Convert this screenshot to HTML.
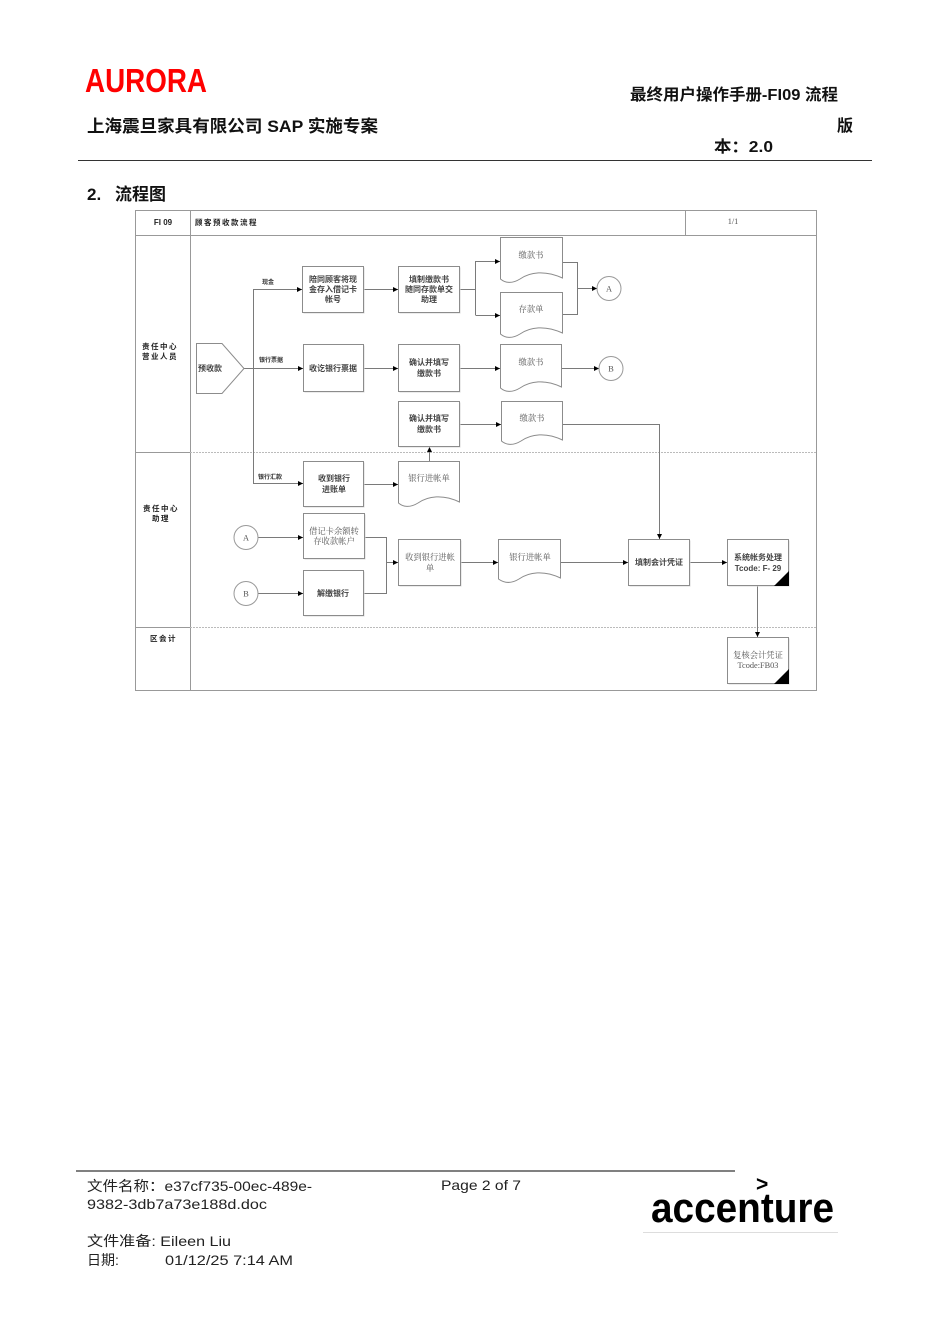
<!DOCTYPE html>
<html><head><meta charset="utf-8">
<style>
html,body{margin:0;padding:0;background:#fff;}
svg{display:block;}
.s{font-family:"Liberation Sans","Noto Sans CJK SC",sans-serif;}
.b{font-family:"Liberation Sans","Noto Sans CJK SC",sans-serif;font-size:8px;fill:#444;font-weight:bold;}
.r{font-family:"Liberation Serif","Noto Serif CJK SC",serif;font-size:8.3px;fill:#555;}
.lb{font-family:"Liberation Sans","Noto Sans CJK SC",sans-serif;font-size:7.5px;fill:#222;font-weight:bold;letter-spacing:1.5px;}
.bx{fill:#fff;stroke:#8c8c8c;stroke-width:1;}
.sh{fill:#d8d8d8;stroke:none;}
.ln{stroke:#7a7a7a;stroke-width:1;fill:none;}
</style></head>
<body>
<svg width="950" height="1344" viewBox="0 0 950 1344" xmlns="http://www.w3.org/2000/svg">
<defs>
<marker id="ar" viewBox="0 0 10 10" refX="10" refY="5" markerWidth="5" markerHeight="5" orient="auto">
<path d="M0,0 L10,5 L0,10 Z" fill="#000"/>
</marker>
</defs>

<!-- Page header -->
<text x="85" y="92" font-family="Liberation Sans" font-weight="bold" font-size="33" fill="#f00" textLength="122" lengthAdjust="spacingAndGlyphs">AURORA</text>
<text x="630" y="100" class="s" font-weight="bold" font-size="16" fill="#111" textLength="208" lengthAdjust="spacingAndGlyphs">最终用户操作手册-FI09 流程</text>
<text x="87" y="132" class="s" font-weight="bold" font-size="17" fill="#111" textLength="291" lengthAdjust="spacingAndGlyphs">上海震旦家具有限公司 SAP 实施专案</text>
<text x="837" y="131" class="s" font-weight="bold" font-size="16" fill="#111">版</text>
<text x="714" y="152" class="s" font-weight="bold" font-size="16" fill="#111" textLength="59" lengthAdjust="spacingAndGlyphs">本：2.0</text>
<line x1="78" y1="160.5" x2="872" y2="160.5" stroke="#333" stroke-width="1"/>
<text x="87" y="200" class="s" font-weight="bold" font-size="17" fill="#111">2.</text>
<text x="115" y="200" class="s" font-weight="bold" font-size="17" fill="#111">流程图</text>

<!-- Diagram frame -->
<rect x="135.5" y="210.5" width="681" height="480" fill="#fff" stroke="#999" stroke-width="1"/>
<line x1="135" y1="235.5" x2="817" y2="235.5" stroke="#999"/>
<line x1="190.5" y1="210" x2="190.5" y2="691" stroke="#999"/>
<line x1="685.5" y1="210" x2="685.5" y2="235" stroke="#999"/>
<line x1="135" y1="452.5" x2="190" y2="452.5" stroke="#999"/>
<line x1="135" y1="627.5" x2="190" y2="627.5" stroke="#999"/>
<line x1="190" y1="452.5" x2="817" y2="452.5" stroke="#bbb" stroke-dasharray="2,1"/>
<line x1="190" y1="627.5" x2="817" y2="627.5" stroke="#bbb" stroke-dasharray="2,1"/>

<text x="163" y="225" class="s" font-size="8" font-weight="bold" fill="#222" text-anchor="middle">FI 09</text>
<text x="195" y="225" class="lb" font-size="8.5">顾客预收款流程</text>
<text x="733" y="224" class="r" font-size="9" text-anchor="middle">1/1</text>

<text x="142" y="349" class="lb">责任中心</text>
<text x="142" y="359" class="lb">营业人员</text>
<text x="143" y="511" class="lb">责任中心</text>
<text x="152" y="521" class="lb">助理</text>
<text x="150" y="641" class="lb">区会计</text>

<!-- Connectors -->
<g class="ln">
<path d="M244,368.5 H253.5"/>
<path d="M253.5,289 V484"/>
<path d="M253.5,289.5 H302" marker-end="url(#ar)"/>
<path d="M253.5,368.5 H303" marker-end="url(#ar)"/>
<path d="M253.5,483.5 H303" marker-end="url(#ar)"/>
<path d="M364,289.5 H398" marker-end="url(#ar)"/>
<path d="M460,289.5 H475.5"/>
<path d="M475.5,261 V315"/>
<path d="M475.5,261.5 H500" marker-end="url(#ar)"/>
<path d="M475.5,315.5 H500" marker-end="url(#ar)"/>
<path d="M563,262.5 H577.5 V314.5 H563"/>
<path d="M577.5,288.5 H597" marker-end="url(#ar)"/>
<path d="M364,368.5 H398" marker-end="url(#ar)"/>
<path d="M460,368.5 H500" marker-end="url(#ar)"/>
<path d="M562,368.5 H599" marker-end="url(#ar)"/>
<path d="M460,424.5 H501" marker-end="url(#ar)"/>
<path d="M563,424.5 H659.5 V539" marker-end="url(#ar)"/>
<path d="M364,484.5 H398" marker-end="url(#ar)"/>
<path d="M429.5,461 V447" marker-end="url(#ar)"/>
<path d="M258,537.5 H303" marker-end="url(#ar)"/>
<path d="M258,593.5 H303" marker-end="url(#ar)"/>
<path d="M365,537.5 H386.5 V593.5 H364"/>
<path d="M386.5,562.5 H398" marker-end="url(#ar)"/>
<path d="M461,562.5 H498" marker-end="url(#ar)"/>
<path d="M561,562.5 H628" marker-end="url(#ar)"/>
<path d="M690,562.5 H727" marker-end="url(#ar)"/>
<path d="M757.5,586 V637" marker-end="url(#ar)"/>
</g>

<!-- Pentagon -->
<polygon points="196.5,343.5 222,343.5 244,368.5 222,393.5 196.5,393.5" class="bx"/>
<text x="198" y="371" class="b" font-weight="normal">预收款</text>

<!-- Lane 1 boxes -->
<rect x="303.5" y="267.5" width="61" height="46" class="sh"/>
<rect x="302.5" y="266.5" width="61" height="46" class="bx"/>
<text class="b" text-anchor="middle" x="333" y="282">陪同顾客将现</text>
<text class="b" text-anchor="middle" x="333" y="292">金存入借记卡</text>
<text class="b" text-anchor="middle" x="333" y="302">帐号</text>

<rect x="399.5" y="267.5" width="61" height="46" class="sh"/>
<rect x="398.5" y="266.5" width="61" height="46" class="bx"/>
<text class="b" text-anchor="middle" x="429" y="282">填制缴款书</text>
<text class="b" text-anchor="middle" x="429" y="292">随同存款单交</text>
<text class="b" text-anchor="middle" x="429" y="302">助理</text>

<path class="bx" d="M500.5,237.5 H562.5 V278 C545,270 530,272 520,279 C512,284 505,283 500.5,279 Z"/>
<text class="r" text-anchor="middle" x="531" y="258">缴款书</text>
<path class="bx" d="M500.5,292.5 H562.5 V333 C545,325 530,327 520,334 C512,339 505,338 500.5,334 Z"/>
<text class="r" text-anchor="middle" x="531" y="312">存款单</text>

<circle cx="609" cy="288.5" r="12" fill="#fff" stroke="#999"/>
<text class="r" text-anchor="middle" x="609" y="291.5" font-size="7.5">A</text>

<rect x="304.5" y="345.5" width="60" height="47" class="sh"/>
<rect x="303.5" y="344.5" width="60" height="47" class="bx"/>
<text class="b" text-anchor="middle" x="333" y="371">收讫银行票据</text>

<rect x="399.5" y="345.5" width="61" height="47" class="sh"/>
<rect x="398.5" y="344.5" width="61" height="47" class="bx"/>
<text class="b" text-anchor="middle" x="429" y="365">确认并填写</text>
<text class="b" text-anchor="middle" x="429" y="376">缴款书</text>

<path class="bx" d="M500.5,344.5 H561.5 V387 C545,379 530,381 520,388 C512,393 505,392 500.5,388 Z"/>
<text class="r" text-anchor="middle" x="531" y="365">缴款书</text>

<circle cx="611" cy="368.5" r="12" fill="#fff" stroke="#999"/>
<text class="r" text-anchor="middle" x="611" y="371.5" font-size="7.5">B</text>

<rect x="399.5" y="402.5" width="61" height="45" class="sh"/>
<rect x="398.5" y="401.5" width="61" height="45" class="bx"/>
<text class="b" text-anchor="middle" x="429" y="421">确认并填写</text>
<text class="b" text-anchor="middle" x="429" y="432">缴款书</text>

<path class="bx" d="M501.5,401.5 H562.5 V440 C546,432 531,434 521,441 C513,446 506,445 501.5,441 Z"/>
<text class="r" text-anchor="middle" x="532" y="421">缴款书</text>

<!-- Lane 1 labels -->
<text class="s" x="262" y="284" font-size="6" fill="#333" font-weight="bold">现金</text>
<text class="s" x="259" y="362" font-size="6" fill="#333" font-weight="bold">银行票据</text>
<text class="s" x="258" y="479" font-size="6" fill="#333" font-weight="bold">银行汇款</text>

<!-- Lane 2 -->
<rect x="304.5" y="462.5" width="60" height="45" class="sh"/>
<rect x="303.5" y="461.5" width="60" height="45" class="bx"/>
<text class="b" text-anchor="middle" x="334" y="481">收到银行</text>
<text class="b" text-anchor="middle" x="334" y="492">进账单</text>

<path class="bx" d="M398.5,461.5 H459.5 V502 C443,494 428,496 418,503 C410,508 403,507 398.5,503 Z"/>
<text class="r" text-anchor="middle" x="429" y="481">银行进帐单</text>

<circle cx="246" cy="537.5" r="12" fill="#fff" stroke="#999"/>
<text class="r" text-anchor="middle" x="246" y="540.5" font-size="7.5">A</text>
<circle cx="246" cy="593.5" r="12" fill="#fff" stroke="#999"/>
<text class="r" text-anchor="middle" x="246" y="596.5" font-size="7.5">B</text>

<rect x="304.5" y="514.5" width="61" height="45" class="sh"/>
<rect x="303.5" y="513.5" width="61" height="45" class="bx"/>
<text class="r" text-anchor="middle" x="334" y="534">借记卡余额转</text>
<text class="r" text-anchor="middle" x="334" y="544">存收款帐户</text>

<rect x="304.5" y="571.5" width="60" height="45" class="sh"/>
<rect x="303.5" y="570.5" width="60" height="45" class="bx"/>
<text class="b" text-anchor="middle" x="333" y="596">解缴银行</text>

<rect x="399.5" y="540.5" width="62" height="46" class="sh"/>
<rect x="398.5" y="539.5" width="62" height="46" class="bx"/>
<text class="r" text-anchor="middle" x="430" y="560">收到银行进帐</text>
<text class="r" text-anchor="middle" x="430" y="571">单</text>

<path class="bx" d="M498.5,539.5 H560.5 V578 C544,570 529,572 519,579 C511,584 504,583 498.5,579 Z"/>
<text class="r" text-anchor="middle" x="530" y="560">银行进帐单</text>

<rect x="629.5" y="540.5" width="61" height="46" class="sh"/>
<rect x="628.5" y="539.5" width="61" height="46" class="bx"/>
<text class="b" text-anchor="middle" x="659" y="565">填制会计凭证</text>

<rect x="728.5" y="540.5" width="61" height="46" class="sh"/>
<rect x="727.5" y="539.5" width="61" height="46" class="bx"/>
<text class="b" text-anchor="middle" x="758" y="560" font-weight="normal">系统帐务处理</text>
<text class="b" text-anchor="middle" x="758" y="571" font-weight="normal">Tcode: F- 29</text>
<polygon points="789,571 789,586 774,586" fill="#000"/>

<!-- Lane 3 -->
<rect x="728.5" y="638.5" width="61" height="46" class="sh"/>
<rect x="727.5" y="637.5" width="61" height="46" class="bx"/>
<text class="r" text-anchor="middle" x="758" y="658">复核会计凭证</text>
<text class="r" text-anchor="middle" x="758" y="668">Tcode:FB03</text>
<polygon points="789,669 789,684 774,684" fill="#000"/>

<!-- Footer -->
<line x1="76" y1="1171" x2="735" y2="1171" stroke="#000" stroke-width="1"/>
<text x="87" y="1191" class="s" font-size="14" fill="#222" textLength="225" lengthAdjust="spacingAndGlyphs">文件名称：e37cf735-00ec-489e-</text>
<text x="87" y="1209" class="s" font-size="14" fill="#222" textLength="180" lengthAdjust="spacingAndGlyphs">9382-3db7a73e188d.doc</text>
<text x="441" y="1190" class="s" font-size="14" fill="#222" textLength="80" lengthAdjust="spacingAndGlyphs">Page 2 of 7</text>
<text x="87" y="1246" class="s" font-size="14" fill="#222" textLength="144" lengthAdjust="spacingAndGlyphs">文件准备:  Eileen Liu</text>
<text x="87" y="1265" class="s" font-size="14" fill="#222">日期:</text>
<text x="165" y="1265" class="s" font-size="14" fill="#222" textLength="128" lengthAdjust="spacingAndGlyphs">01/12/25 7:14 AM</text>

<text x="756" y="1191" font-family="Liberation Sans" font-weight="bold" font-size="21" fill="#000">&gt;</text>
<text x="651" y="1222" font-family="Liberation Sans" font-weight="bold" font-size="42" fill="#000" textLength="183" lengthAdjust="spacingAndGlyphs">accenture</text>
<line x1="643" y1="1232.5" x2="838" y2="1232.5" stroke="#ddd" stroke-width="1"/>
</svg>
</body></html>
